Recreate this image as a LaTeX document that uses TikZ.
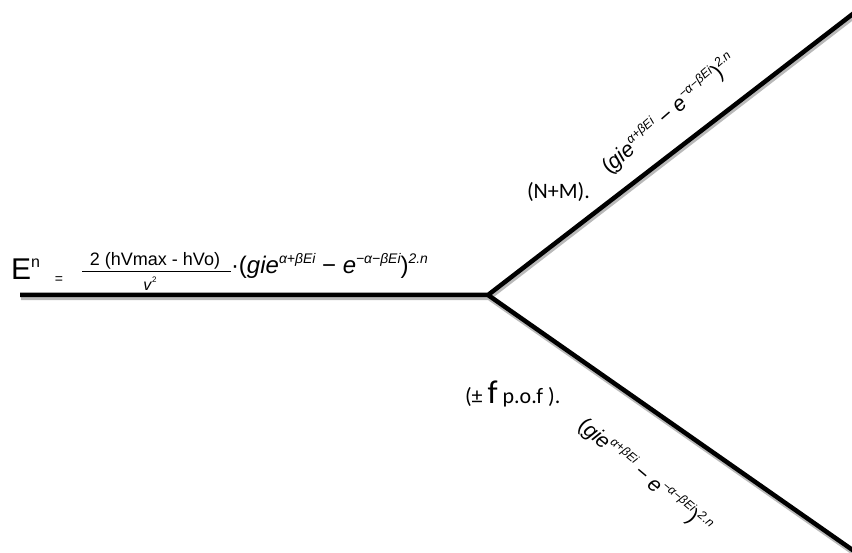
\documentclass[tikz,border=0pt]{standalone}
\usepackage{fontspec}
\setmainfont{Liberation Sans}
\newfontfamily\calibfont{Carlito}
\newcommand\hiup[1]{\raisebox{0.42em}{\scalebox{0.58}{\itshape #1}}}
\newcommand\gieterm{(\textit{gie}\hiup{α+βEi}\;−\;\textit{e}\hiup{−α−βEi})\hiup{2.n}}
\begin{document}
\begin{tikzpicture}[x=1pt, y=-1pt,
    every node/.style={inner sep=0pt, outer sep=0pt},
    branch/.style={line width=4.5pt, line cap=butt, line join=miter},
    shade/.style={line width=4.5pt, gray!55},
    formula/.style={font=\fontsize{24}{24}\selectfont},
    tag/.style={font=\calibfont\fontsize{22}{22}\selectfont},
  ]
  \useasboundingbox (0,0) rectangle (852,553);
  % Branch points
  \coordinate (start) at (20,295);
  \coordinate (fork)  at (488,295);
  \coordinate (upend) at (854,13);
  \coordinate (lowend) at (854,551);
  % Shadows, then lines
  \draw[shade] ([shift={(1,3)}]start) -- ([shift={(1,3)}]fork) -- ([shift={(1,3)}]lowend);
  \draw[shade] ([shift={(1.5,2.5)}]fork) -- ([shift={(1.5,2.5)}]upend);
  \draw[branch] (start) -- (fork) -- (upend);
  \draw[branch] (fork) -- (lowend);
  % Left equation
  \node[anchor=base west, font=\fontsize{30}{30}\selectfont] (E) at (11,280) {E};
  \node[anchor=north west, font=\fontsize{16}{16}\selectfont] (n) at (E.north east) {n};
  \node[anchor=base, font=\fontsize{14}{14}\selectfont] (eq) at (59,284) {=};
  \node[anchor=base, font=\fontsize{18}{18}\selectfont] (num) at (155,266) {2 (hVmax - hVo)};
  \draw[line width=0.8pt] (82,271) coordinate (barL) -- (231,271) coordinate (barR);
  \node[anchor=base, font=\fontsize{16}{16}\selectfont] (den) at (150,291) {\textit{v}\raisebox{0.5em}{\fontsize{8}{8}\selectfont 2}};
  \node[anchor=base west, formula] (main) at (231,274) {·\gieterm};
  % Upper branch
  \node[tag, anchor=base west] (nm) at (527,199) {(N+M).};
  \node[formula, rotate=41, scale=0.9] (upterm) at (669,114) {\gieterm};
  % Lower branch
  \node[tag, anchor=base west] (pof) at (465,404) {(± {\fontsize{33}{33}\selectfont f} p.o.f ).};
  \node[formula, rotate=-40, scale=0.88] (lowterm) at (645,476) {\gieterm};
\end{tikzpicture}
\end{document}
